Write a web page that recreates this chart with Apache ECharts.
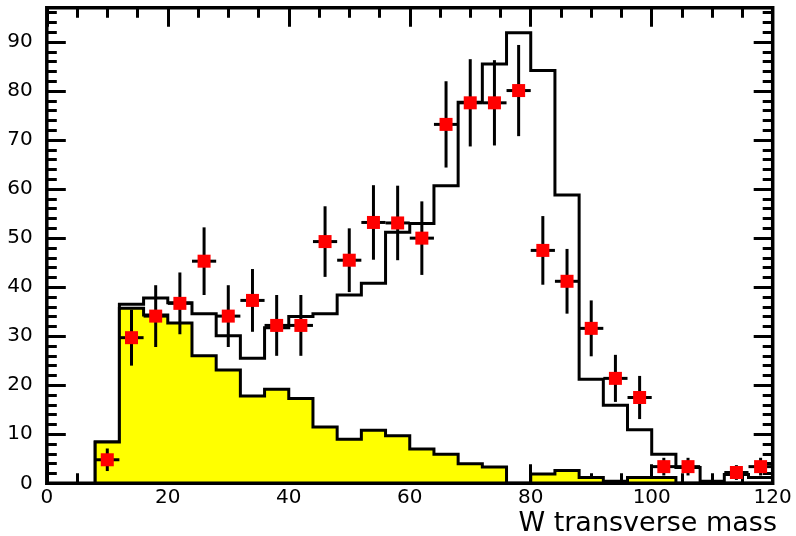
<!DOCTYPE html>
<html>
  <head>
    <meta charset="utf-8" />
    <title>W transverse mass</title>
    <script src="https://cdn.jsdelivr.net/npm/echarts@6/dist/echarts.min.js"></script>
    <style>
      html, body {margin:0;padding:0;background:#fff;}
      #chart {width:796px;height:536px;}
    </style>
  </head>
  <body>
    <div id="chart"></div>
    <script type="text/javascript">
      // bin edges (4 GeV bins) and histogram contents
      var binEdges = [8, 12, 16, 20, 24, 28, 32, 36, 40, 44, 48, 52, 56, 60, 64,
                      68, 72, 76, 80, 84, 88, 92, 96, 100, 104, 108, 112, 116, 120];
      // total expectation (open histogram)
      var totalMC = [8.4, 36.5, 37.8, 36.8, 34.6, 30.1, 25.5, 31.7, 34.0, 34.6, 38.4, 40.8, 51.2, 53.0,
                     60.7, 77.7, 85.5, 91.9, 84.2, 58.8, 21.2, 15.9, 10.9, 5.9, 3.2, 0.4, 1.8, 1.2];
      // background (yellow histogram)
      var background = [8.4, 35.7, 34.3, 32.7, 26.0, 23.1, 17.8, 19.2, 17.3, 11.5, 9.0, 10.8, 9.7, 7.0,
                        5.9, 4.0, 3.3, 0, 1.9, 2.6, 1.2, 0.4, 1.2, 1.2, 0, 0, 0, 0];
      // data points (bin centres), null = empty bin
      var dataX = [10, 14, 18, 22, 26, 30, 34, 38, 42, 46, 50, 54, 58, 62,
                   66, 70, 74, 78, 82, 86, 90, 94, 98, 102, 106, 110, 114, 118];
      var dataY = [4.8, 29.7, 34.1, 36.7, 45.3, 34.1, 37.3, 32.2, 32.2, 49.3, 45.5, 53.2, 53.1, 50.0,
                   73.2, 77.6, 77.6, 80.1, 47.5, 41.2, 31.6, 21.4, 17.5, 3.4, 3.4, null, 2.2, 3.4];
      var dataErr = [2.3, 5.7, 6.3, 6.3, 6.9, 6.3, 6.4, 6.2, 6.2, 7.2, 6.5, 7.6, 7.6, 7.5,
                     8.8, 8.9, 8.7, 9.3, 7.0, 6.6, 5.7, 4.8, 4.4, 1.8, 1.8, null, 1.5, 1.8];

      function stepPoints(values) {
        var pts = [[binEdges[0], 0]];
        for (var i = 0; i < values.length; i++) {
          pts.push([binEdges[i], values[i]]);
        }
        pts.push([binEdges[binEdges.length - 1], values[values.length - 1]]);
        return pts;
      }

      var points = [];
      for (var i = 0; i < dataX.length; i++) {
        if (dataY[i] !== null) points.push([dataX[i], dataY[i], dataErr[i]]);
      }
      var halfBin = 2;

      var tickStyle = {width: 3, color: '#000'};
      function xAx(pos, showLabel) {
        return {
          type: 'value', position: pos, min: 0, max: 120, interval: 20,
          axisLine: {show: false, onZero: false},
          axisTick: {show: true, inside: true, length: 19, lineStyle: tickStyle},
          minorTick: {show: true, splitNumber: 4, length: 10, lineStyle: tickStyle},
          splitLine: {show: false},
          axisLabel: {show: showLabel, fontFamily: 'DejaVu Sans', fontSize: 20, color: '#000', margin: 4}
        };
      }
      function yAx(pos, showLabel) {
        return {
          type: 'value', position: pos, min: 0, max: 97, interval: 10,
          axisLine: {show: false, onZero: false},
          axisTick: {show: true, inside: true, length: 19, lineStyle: tickStyle},
          minorTick: {show: true, splitNumber: 5, length: 10, lineStyle: tickStyle},
          splitLine: {show: false},
          axisLabel: {
            show: showLabel, fontFamily: 'DejaVu Sans', fontSize: 20, color: '#000', margin: 14,
            padding: [8, 0, 0, 0],
            formatter: function (v) { return v % 10 === 0 ? String(v) : ''; }
          }
        };
      }

      var chart = echarts.init(document.getElementById('chart'));
      var option = {
        animation: false,
        title: {
          text: 'W transverse mass', right: 19, top: 510, padding: 0,
          textStyle: {fontFamily: 'DejaVu Sans', fontSize: 27, fontWeight: 'normal', color: '#000'}
        },
        grid: {
          left: 46.8, right: 23.3, top: 7.7, bottom: 52.7,
          show: true, borderColor: '#000', borderWidth: 3.5, z: 10,
          outerBoundsMode: 'none'
        },
        xAxis: [xAx('bottom', true), xAx('top', false)],
        yAxis: [yAx('left', true), yAx('right', false)],
        series: [
          {
            name: 'total', type: 'line', step: 'end', data: stepPoints(totalMC),
            showSymbol: false, z: 2,
            lineStyle: {color: '#000', width: 3, join: 'miter'}
          },
          {
            name: 'background', type: 'line', step: 'end', data: stepPoints(background),
            showSymbol: false, z: 3,
            lineStyle: {color: '#000', width: 3, join: 'miter'},
            areaStyle: {color: '#ffff00', opacity: 1}
          },
          {
            name: 'data', type: 'custom', z: 5, data: points,
            renderItem: function (params, api) {
              var x = api.value(0), y = api.value(1), e = api.value(2);
              var c = api.coord([x, y]);
              var top = api.coord([x, y + e]);
              var bot = api.coord([x, Math.max(y - e, 0)]);
              var l = api.coord([x - halfBin, y]);
              var r = api.coord([x + halfBin, y]);
              return {
                type: 'group',
                children: [
                  {type: 'line', shape: {x1: c[0], y1: top[1], x2: c[0], y2: bot[1]},
                   style: {stroke: '#000', lineWidth: 3}},
                  {type: 'line', shape: {x1: l[0], y1: c[1], x2: r[0], y2: c[1]},
                   style: {stroke: '#000', lineWidth: 3}},
                  {type: 'rect', shape: {x: c[0] - 6.5, y: c[1] - 6.5, width: 13, height: 13},
                   style: {fill: '#ff0000'}}
                ]
              };
            }
          }
        ]
      };
      chart.setOption(option);
    </script>
  </body>
</html>
